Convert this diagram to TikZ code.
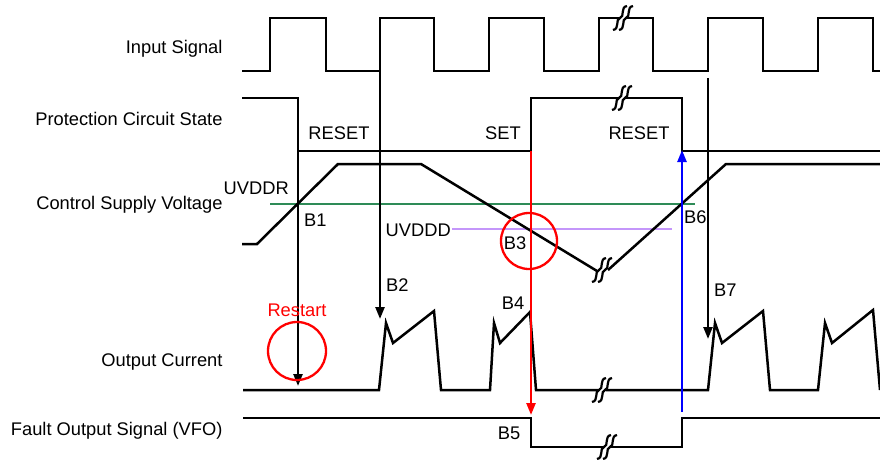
\documentclass[tikz,border=0pt]{standalone}
\usepackage{fontspec}
\setmainfont{Liberation Sans}
\usepackage{xcolor}
\usetikzlibrary{arrows.meta, positioning}

\definecolor{uvgreen}{RGB}{46,139,87}
\definecolor{uvpurple}{RGB}{196,150,250}

\begin{document}
\begin{tikzpicture}[
    x=1pt, y=-1pt,
    wave/.style={draw=black, line width=2.5pt, line join=miter},
    level/.style={line width=2.2pt},
    arrow/.style={-{Triangle[length=12pt, width=9pt]}, line width=2.4pt},
    sig/.style={anchor=east, font=\fontsize{18.3}{20}\selectfont},
    tag/.style={font=\fontsize{18.3}{20}\selectfont, inner sep=1pt},
    hit/.style={draw=red, line width=2.3pt},
    wavebreak/.pic={
        \fill[white] (-4,-3) rectangle (4,3);
        \draw[line width=2.2pt] (-10,12) .. controls (-3,11) and (-8,1) .. (-3,0) .. controls (2,-1) and (-3,-11) .. (4,-12);
        \draw[line width=2.2pt] (-4,12) .. controls (3,11) and (-2,1) .. (3,0) .. controls (8,-1) and (3,-11) .. (10,-12);
    }
]
\useasboundingbox (0,0) rectangle (880,460);

% Signal names
\node[sig] (sigIn) at (226,49) {Input Signal};
\node[sig] (sigProt) at (226,119) {Protection Circuit State};
\node[sig] (sigVcc) at (226,205) {Control Supply Voltage};
\node[sig] (sigOut) at (226,362) {Output Current};
\node[sig] (sigFo) at (226,431) {Fault Output Signal (VFO)};

% Thresholds
\draw[level, uvgreen] (270,204) -- (695,204);
\draw[level, uvpurple] (452,229) -- (672,229);
\node[tag, anchor=east] (uvddr) at (290,188) {UVDDR};
\node[tag, anchor=east] (uvddd) at (452,230) {UVDDD};

% Waveforms
\draw[wave] (242,71) -| (270,18) -| (326,71) -| (380,18) -| (434,71) -| (489,18) -| (544,71)
    -| (599,18) -| (653,71) -| (708,18) -| (763,71) -| (818,18) -| (873,71) -- (880,71);
\draw[wave] (242,98) -| (298,151) -| (531,98) -| (682,151) -- (880,151);
\draw[wave] (242,244) -- (257,244) -- (338,164) -- (421,164) -- (597,271);
\draw[wave] (608,270) -- (726,164) -- (880,164);
\draw[wave] (243,390) -- (379,390) -- (386,323) -- (393,343) -- (434,311) -- (441,390)
    -- (490,390) -- (494,323) -- (500,343) -- (530,312) -- (536,390) -- (708,390)
    -- (715,323) -- (722,343) -- (763,311) -- (770,390) -- (818,390) -- (825,323)
    -- (832,343) -- (873,310) -- (880,390);
\draw[wave] (243,418) -| (531,447) -| (682,418) -- (880,418);

% Breaks
\pic at (623,18) {wavebreak};
\pic at (622,98) {wavebreak};
\pic at (602,270) {wavebreak};
\pic at (602,390) {wavebreak};
\pic at (607,447) {wavebreak};

% States
\node[tag] (rst1) at (339,133) {RESET};
\node[tag] (set) at (503,133) {SET};
\node[tag] (rst2) at (639,133) {RESET};

% Arrow ends
\coordinate (b1top) at (298,151);
\coordinate (b1end) at (298,386);
\coordinate (b2top) at (380,71);
\coordinate (b2end) at (380,319);
\coordinate (b7top) at (708,78);
\coordinate (b7end) at (708,339);
\coordinate (fotop) at (531,151);
\coordinate (foend) at (531,415);
\coordinate (uvbot) at (682,412);
\coordinate (uvtop) at (682,150);

% Arrows
\draw[arrow] (b1top) -- (b1end);
\draw[arrow] (b2top) -- (b2end);
\draw[arrow] (b7top) -- (b7end);
\draw[arrow, red] (fotop) -- (foend);
\draw[arrow, blue] (uvbot) -- (uvtop);

% Marks
\draw[hit] (297,351) circle (29);
\draw[hit] (529,241) circle (28);
\node[tag, text=red] (restart) at (297,310) {Restart};
\node[tag, anchor=west] (b1) at (303,220) {B1};
\node[tag, anchor=west] (b2) at (385,285) {B2};
\node[tag] (b3) at (515,243) {B3};
\node[tag] (b4) at (513,303) {B4};
\node[tag] (b5) at (509,433) {B5};
\node[tag, anchor=west] (b6) at (683,217) {B6};
\node[tag, anchor=west] (b7) at (713,290) {B7};

\end{tikzpicture}
\end{document}
